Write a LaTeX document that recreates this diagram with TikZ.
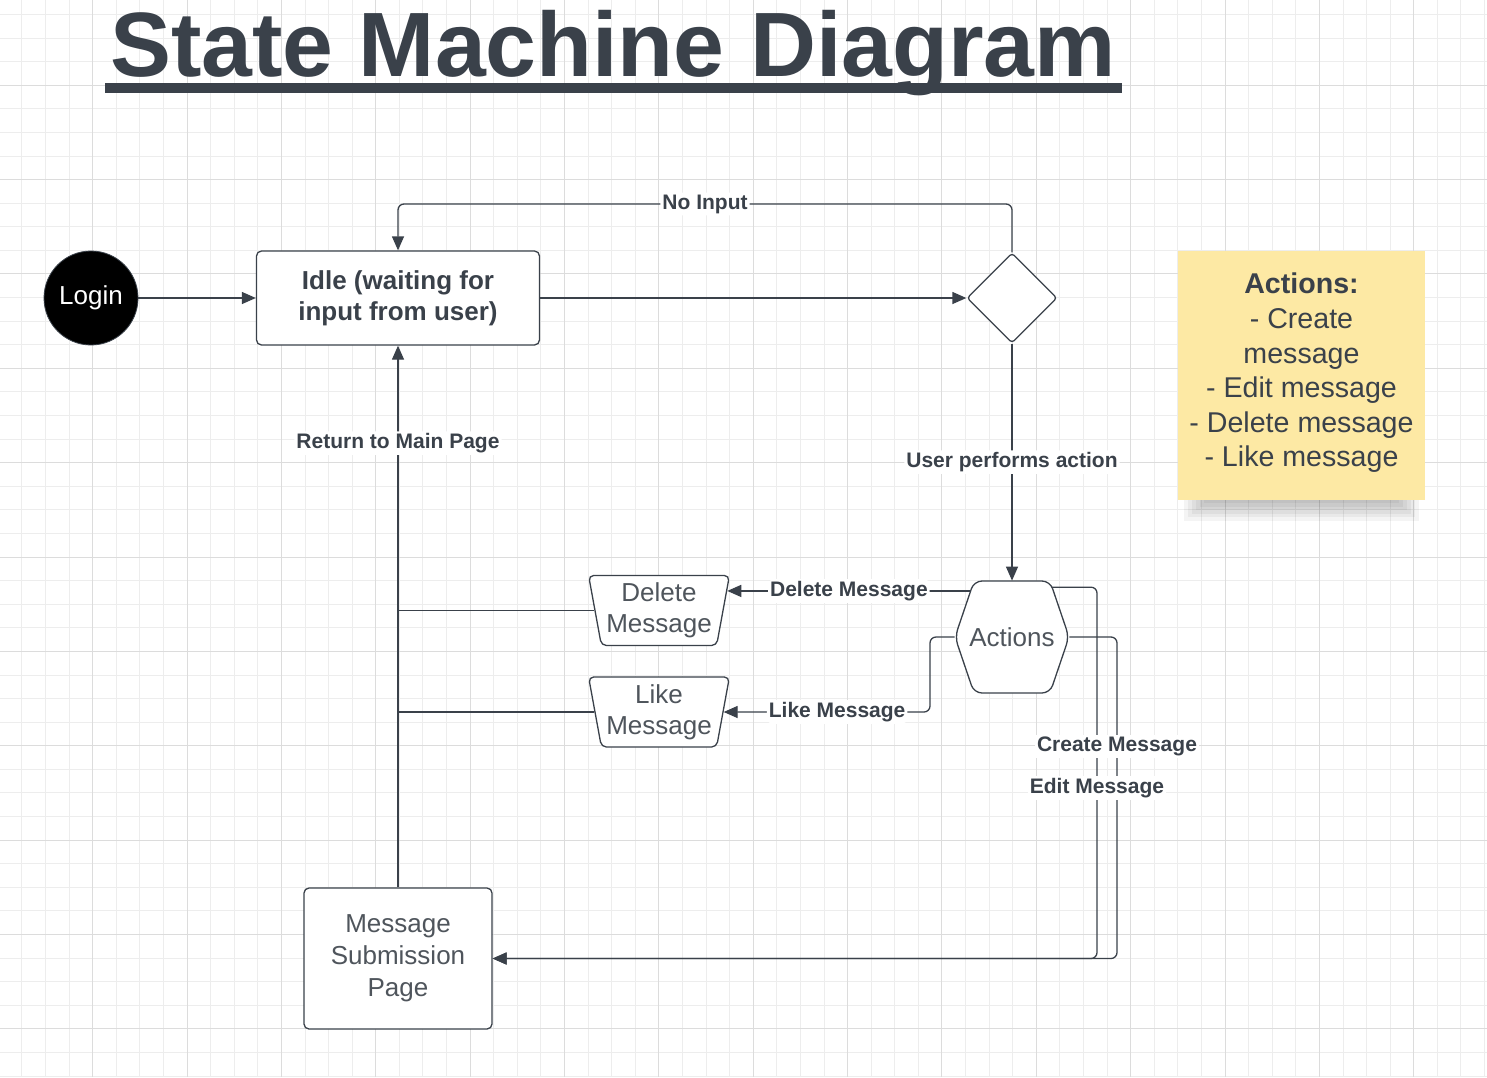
\documentclass[tikz,border=0pt]{standalone}
\usepackage{fontspec}
\setmainfont{Liberation Sans}
\usetikzlibrary{arrows.meta,shapes.geometric,calc}
\definecolor{ink}{HTML}{3A414A}
\definecolor{soft}{HTML}{4F555C}
\definecolor{gridminor}{HTML}{EDEDED}
\definecolor{gridmajor}{HTML}{DCDCDC}
\definecolor{notefill}{HTML}{FDE9A4}
\begin{document}
\begin{tikzpicture}[x=.5pt,y=-.5pt,
  conn/.style={draw=ink,line width=.65pt,rounded corners=3pt},
  arr/.style={conn,-{Triangle[length=7pt,width=6pt]}},
  lbl/.style={fill=white,inner sep=1pt,text=ink,font=\fontsize{10.5}{12}\selectfont\bfseries},
  statebox/.style={draw=ink,fill=white,line width=.65pt,rounded corners=2.5pt,align=center,font=\fontsize{13}{16}\selectfont},
  trap/.style={statebox,trapezium,trapezium angle=78,shape border rotate=180,trapezium stretches=true,minimum width=70.5pt,minimum height=35pt,inner sep=0pt,text=soft,font=\fontsize{13}{15.5}\selectfont}]
\useasboundingbox (0,0) rectangle (1487,1077);
\fill[white] (0,0) rectangle (1487,1077);
\foreach \i in {0,...,63} \draw[gridminor,line width=.5pt] ({-1.65+23.59*\i},0) -- ++(0,1077);
\foreach \j in {0,...,46} \draw[gridminor,line width=.5pt] (0,{-9.1+23.59*\j}) -- ++(1487,0);
\foreach \i in {0,...,16} \draw[gridmajor,line width=.5pt] ({-1.65+94.36*\i},0) -- ++(0,1077);
\foreach \j in {0,...,12} \draw[gridmajor,line width=.5pt] (0,{-9.1+94.36*\j}) -- ++(1487,0);

\node[font=\fontsize{45.7}{50}\selectfont\bfseries,text=ink,anchor=base] (title) at (613,76) {State Machine Diagram};
\fill[ink] (105,83) rectangle (1122,93);

\node[circle,fill=black,draw=ink,minimum size=47pt,inner sep=0pt,text=white,font=\fontsize{13}{16}\selectfont] (login) at (91,298) {Login};
\node[statebox,minimum width=141.5pt,minimum height=47pt,text=ink,font=\fontsize{13}{15.5}\selectfont\bfseries] (idle) at (398,298) {Idle (waiting for\\input from user)};
\node[diamond,draw=ink,fill=white,line width=.65pt,minimum size=45pt,inner sep=0pt,rounded corners=1.5pt] (dia) at (1012,298) {};

\coordinate (actc) at (1012,637);
\draw[draw=ink,fill=white,line width=.65pt,rounded corners=4pt] ($(actc)+(-57,0)$) coordinate (aW) -- ($(actc)+(-38,-56)$) coordinate (aNW) -- ($(actc)+(38,-56)$) coordinate (aNE) -- ($(actc)+(57,0)$) coordinate (aE) -- ($(actc)+(38,56)$) -- ($(actc)+(-38,56)$) -- cycle;
\node[text=soft,font=\fontsize{13}{16}\selectfont,minimum width=57pt,minimum height=56pt] (act) at (actc) {Actions};

\node[trap] (del) at (659,610.5) {Delete\\Message};
\node[trap] (like) at (659,712) {Like\\Message};
\node[statebox,minimum width=94pt,minimum height=70.5pt,text=soft] (msg) at (398,958.5) {Message\\Submission\\Page};

\foreach \k in {1,...,6} \fill[black,opacity=.045] ({1180+4*\k},480) rectangle ({1423-4*\k},{524-3.5*\k});
\fill[notefill] (1178,251) rectangle (1425,500);
\node[align=center,text=ink,font=\fontsize{14.3}{17.3}\selectfont] (note) at (1301.5,373) {\textbf{Actions:}\\- Create\\message\\- Edit message\\- Delete message\\- Like message};

\draw[arr] (login) -- (idle);
\draw[arr] (idle) -- (dia);
\coordinate (noinput) at (398,204);
\draw[arr] (dia.north) |- node[lbl,pos=.75]{No Input} (noinput) -- (idle.north);
\draw[arr] (dia.south) -- node[lbl]{User performs action} (act.north);

\coordinate (actdel) at ($(aW)!.82!(aNW)$);
\draw[arr] (actdel |- del.16) -- node[lbl]{Delete Message} (del.16);
\coordinate (likebend) at (930,712);
\draw[arr] (act.west) -| (likebend) -- node[lbl,pos=.45]{Like Message} (like.east);

\draw[conn] (del.west) -- (del.west -| msg.north);
\draw[conn] (like.west) -- (like.west -| msg.north);
\draw[arr] (msg.north) -- node[lbl,pos=.82]{Return to Main Page} (idle.south);

\coordinate (actedit) at ($(aE)!.89!(aNE)$);
\coordinate (editbend) at (1097,958.5);
\coordinate (createbend) at (1117,958.5);
\draw[arr] (actedit) -| (editbend) -- (msg.east);
\draw[arr] (act.east) -| (createbend) -- (msg.east);
\path (actedit) -| node[lbl,pos=.77]{Edit Message} (editbend);
\path (act.east) -| node[lbl,pos=.67]{Create Message} (createbend);
\end{tikzpicture}
\end{document}
